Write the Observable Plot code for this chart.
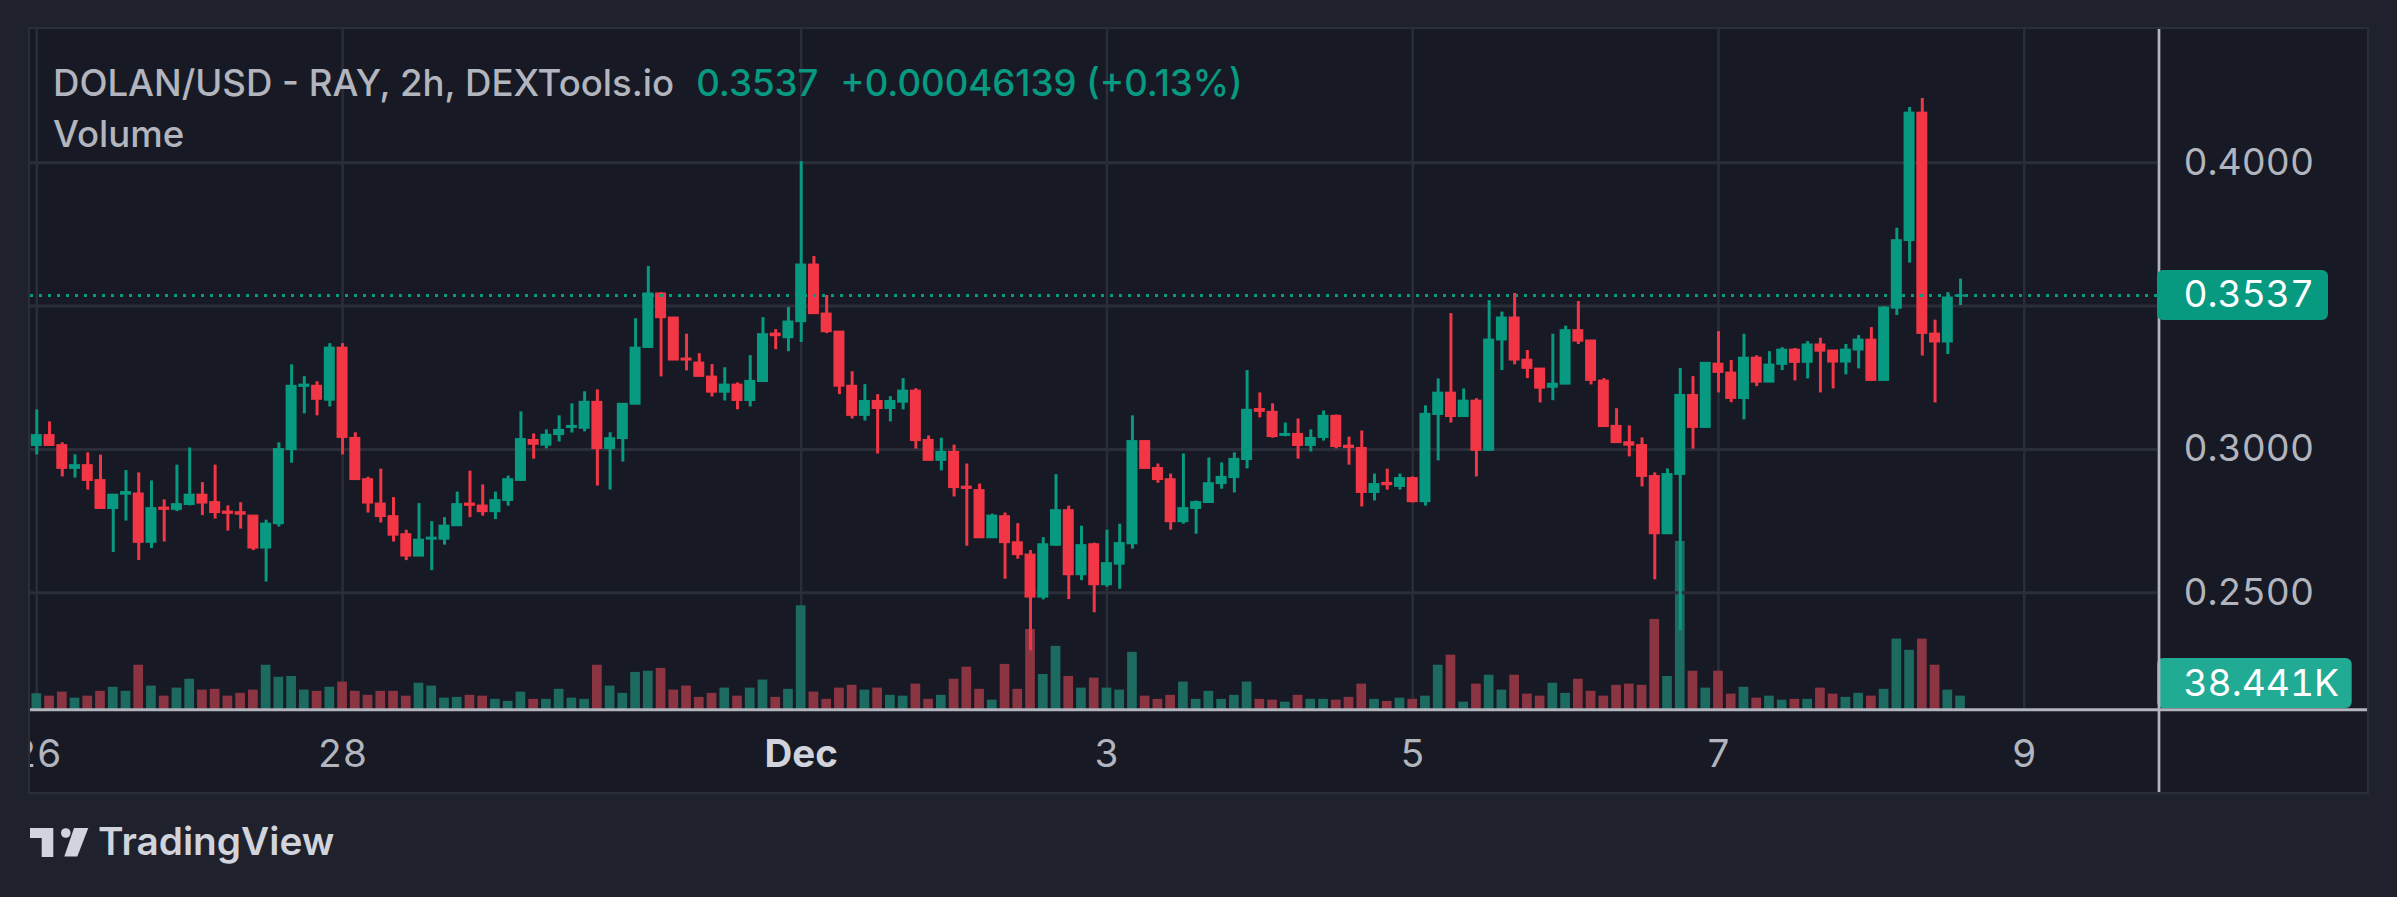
<!DOCTYPE html>
<html>
<head>
<meta charset="utf-8">
<script src="https://cdn.jsdelivr.net/npm/d3@7"></script>
<script src="https://cdn.jsdelivr.net/npm/@observablehq/plot@0.6"></script>
<style>
  html, body { margin:0; padding:0; background:#1f222d; overflow:hidden; }
  #page { position:relative; width:2397px; height:897px; background:#1f222d; font-family: Inter, "Noto Sans", sans-serif; }
  #pane { position:absolute; left:30px; top:29px; width:2337px; height:763px; background:#171a25; overflow:hidden; box-shadow: 0 0 0 2px #2a2e39; }
  #pane > svg { position:absolute; left:0; top:0; }
  .hdr { position:absolute; left:53px; font-size:36.6px; line-height:36.6px; color:#b2b5be; white-space:nowrap; font-weight:500; }
  #title { top:65px; }
  #vol { top:116px; }
  .g { color:#089981; margin-left:22px; }
  #brand { position:absolute; left:98px; top:821.5px; font-size:38.8px; line-height:38.8px; font-weight:600; color:#d1d4dc; white-space:nowrap; }
  #logo { position:absolute; left:30px; top:828px; }
</style>
</head>
<body>
<div id="page">
  <div id="pane"></div>
  <div id="title" class="hdr"></div>
  <div id="vol" class="hdr"></div>
  <svg id="logo" width="62" height="30" viewBox="0 0 62 30">
    <path d="M0 0 H23.3 V29 H11.7 V10 H0 Z" fill="#d1d4dc"/>
    <circle cx="35.8" cy="5" r="4.8" fill="#d1d4dc"/>
    <path d="M44 0 H58.3 L47.3 28.5 H34.3 Z" fill="#d1d4dc"/>
  </svg>
  <div id="brand"></div>
</div>
<script>
// ---------------- data ----------------
const symbolText = "DOLAN/USD - RAY, 2h, DEXTools.io";
const lastPriceText = "0.3537";
const changeText = "+0.00046139 (+0.13%)";
const volumeTitle = "Volume";
const brandText = "TradingView";

const startTime = Date.UTC(2023, 10, 26, 0, 0);   // first 2h candle: Nov 26, 00:00
const stepMs = 2 * 3600 * 1000;

const opens = [
0.3012,0.3050,0.3015,0.2932,0.2945,0.2893,0.2792,0.2842,0.2846,0.2674,
0.2797,0.2789,0.2806,0.2842,0.2816,0.2783,0.2781,0.2769,0.2654,0.2739,
0.2998,0.3218,0.3222,0.3170,0.3355,0.3040,0.2896,0.2811,0.2767,0.2704,
0.2626,0.2685,0.2685,0.2732,0.2811,0.2804,0.2781,0.2820,0.2890,0.3033,
0.3013,0.3050,0.3075,0.3072,0.3166,0.3001,0.3036,0.3156,0.3354,0.3544,
0.3460,0.3317,0.3303,0.3254,0.3198,0.3226,0.3169,0.3235,0.3404,0.3388,
0.3444,0.3645,0.3474,0.3411,0.3222,0.3117,0.3169,0.3141,0.3163,0.3205,
0.3033,0.2960,0.2991,0.2870,0.2858,0.2690,0.2767,0.2676,0.2633,0.2483,
0.2664,0.2788,0.2561,0.2669,0.2526,0.2598,0.2669,0.3029,0.2935,0.2896,
0.2746,0.2792,0.2813,0.2879,0.2900,0.2963,0.3141,0.3131,0.3047,0.3054,
0.3012,0.3040,0.3117,0.3013,0.3005,0.2848,0.2883,0.2869,0.2900,0.2816,
0.3120,0.3198,0.3113,0.3170,0.2995,0.3380,0.3460,0.3313,0.3282,0.3215,
0.3226,0.3416,0.3380,0.3240,0.3082,0.3025,0.3015,0.2907,0.2704,0.2911,
0.3190,0.3075,0.3299,0.3268,0.3176,0.3320,0.3233,0.3295,0.3348,0.3302,
0.3366,0.3345,0.3303,0.3345,0.3383,0.3239,0.3491,0.3727,0.4175,0.3404,
0.3373,0.3533];
const highs = [
0.3138,0.3096,0.3023,0.2981,0.2988,0.2980,0.2842,0.2926,0.2918,0.2890,
0.2824,0.2945,0.3005,0.2884,0.2945,0.2803,0.2814,0.2769,0.2753,0.3023,
0.3295,0.3254,0.3236,0.3369,0.3369,0.3058,0.2903,0.2931,0.2832,0.2718,
0.2811,0.2748,0.2762,0.2851,0.2924,0.2876,0.2851,0.2907,0.3131,0.3054,
0.3068,0.3117,0.3159,0.3201,0.3208,0.3058,0.3159,0.3456,0.3638,0.3547,
0.3460,0.3402,0.3334,0.3296,0.3285,0.3232,0.3327,0.3460,0.3418,0.3495,
0.4004,0.3673,0.3537,0.3411,0.3271,0.3226,0.3191,0.3184,0.3247,0.3212,
0.3047,0.3039,0.3015,0.2949,0.2879,0.2774,0.2778,0.2741,0.2647,0.2692,
0.2912,0.2802,0.2732,0.2673,0.2718,0.2739,0.3117,0.3029,0.2949,0.2914,
0.2984,0.2820,0.2970,0.2953,0.2988,0.3275,0.3197,0.3159,0.3092,0.3106,
0.3068,0.3134,0.3120,0.3043,0.3064,0.2914,0.2931,0.2914,0.2904,0.3152,
0.3246,0.3474,0.3211,0.3177,0.3519,0.3479,0.3544,0.3345,0.3282,0.3402,
0.3430,0.3516,0.3380,0.3247,0.3142,0.3082,0.3040,0.2918,0.2932,0.3282,
0.3254,0.3302,0.3411,0.3310,0.3402,0.3327,0.3341,0.3355,0.3352,0.3376,
0.3388,0.3345,0.3366,0.3397,0.3425,0.3498,0.3772,0.4193,0.4224,0.3451,
0.3547,0.3594];
const lows = [
0.2981,0.3012,0.2904,0.2900,0.2858,0.2792,0.2640,0.2750,0.2612,0.2654,
0.2677,0.2783,0.2803,0.2769,0.2757,0.2715,0.2722,0.2647,0.2537,0.2729,
0.2952,0.3124,0.3117,0.3148,0.2981,0.2893,0.2778,0.2743,0.2677,0.2612,
0.2626,0.2577,0.2666,0.2732,0.2762,0.2767,0.2755,0.2802,0.2890,0.2966,
0.3002,0.3026,0.3057,0.3061,0.2872,0.2858,0.2956,0.3156,0.3354,0.3253,
0.3310,0.3274,0.3253,0.3183,0.3169,0.3138,0.3148,0.3235,0.3348,0.3341,
0.3373,0.3472,0.3404,0.3191,0.3106,0.3099,0.2984,0.3096,0.3138,0.3001,
0.2960,0.2925,0.2834,0.2662,0.2690,0.2690,0.2547,0.2617,0.2297,0.2475,
0.2662,0.2476,0.2542,0.2430,0.2519,0.2512,0.2652,0.2932,0.2882,0.2718,
0.2739,0.2704,0.2813,0.2861,0.2848,0.2932,0.3110,0.3039,0.3044,0.2966,
0.2991,0.3029,0.3002,0.2945,0.2799,0.2820,0.2858,0.2858,0.2813,0.2802,
0.2960,0.3092,0.3113,0.2904,0.2995,0.3275,0.3295,0.3247,0.3162,0.3170,
0.3226,0.3366,0.3225,0.3078,0.3022,0.2974,0.2869,0.2545,0.2704,0.2367,
0.3001,0.3075,0.3197,0.3163,0.3103,0.3219,0.3233,0.3275,0.3239,0.3246,
0.3197,0.3211,0.3260,0.3281,0.3239,0.3239,0.3467,0.3650,0.3326,0.3162,
0.3331,0.3502];
const closes = [
0.3050,0.3012,0.2932,0.2945,0.2890,0.2792,0.2842,0.2851,0.2674,0.2795,
0.2789,0.2809,0.2842,0.2811,0.2778,0.2775,0.2772,0.2654,0.2741,0.3001,
0.3222,0.3226,0.3173,0.3355,0.3040,0.2893,0.2811,0.2764,0.2699,0.2626,
0.2685,0.2692,0.2734,0.2809,0.2803,0.2781,0.2823,0.2896,0.3036,0.3016,
0.3051,0.3068,0.3082,0.3166,0.3001,0.3039,0.3159,0.3355,0.3544,0.3458,
0.3310,0.3310,0.3253,0.3198,0.3226,0.3169,0.3239,0.3402,0.3395,0.3446,
0.3645,0.3472,0.3409,0.3219,0.3117,0.3169,0.3141,0.3169,0.3205,0.3029,
0.2960,0.2991,0.2865,0.2862,0.2690,0.2769,0.2673,0.2631,0.2483,0.2669,
0.2788,0.2561,0.2666,0.2526,0.2603,0.2673,0.3029,0.2932,0.2893,0.2746,
0.2795,0.2816,0.2882,0.2904,0.2967,0.3138,0.3131,0.3043,0.3054,0.3012,
0.3040,0.3117,0.3008,0.3005,0.2848,0.2879,0.2875,0.2900,0.2816,0.3124,
0.3198,0.3113,0.3170,0.2995,0.3383,0.3460,0.3310,0.3281,0.3212,0.3229,
0.3416,0.3376,0.3239,0.3078,0.3022,0.3013,0.2904,0.2704,0.2914,0.3190,
0.3075,0.3302,0.3267,0.3176,0.3320,0.3233,0.3296,0.3348,0.3302,0.3366,
0.3341,0.3303,0.3348,0.3383,0.3239,0.3495,0.3730,0.4175,0.3403,0.3373,
0.3530,0.3537];
// volume in thousands (K)
const volumes = [
45.2,38.4,49.7,32.8,38.4,52.0,63.3,52.0,125.4,66.7,
38.4,61.0,85.9,55.4,57.6,38.4,46.3,55.4,125.4,91.5,
93.8,55.4,52.0,63.3,78.0,52.0,40.7,52.0,52.0,38.4,
74.6,66.7,32.8,35.0,40.7,38.4,29.4,23.7,49.7,29.4,
29.4,57.6,32.8,29.4,125.4,66.7,46.3,105.1,108.5,116.4,
55.4,66.7,35.0,46.3,61.0,38.4,61.0,83.6,35.0,57.6,
292.7,49.7,29.4,61.0,68.9,55.4,61.0,40.7,38.4,72.3,
29.4,40.7,85.9,119.8,57.6,27.1,127.7,57.6,226.0,99.4,
178.5,93.8,61.0,89.3,61.0,55.4,161.6,38.4,29.4,40.7,
78.0,29.4,52.0,29.4,40.7,78.0,29.4,27.1,21.5,40.7,
29.4,29.4,27.1,35.0,72.3,29.4,23.7,32.8,29.4,38.4,
125.4,153.7,21.5,72.3,97.2,55.4,97.2,44.1,38.4,74.6,
46.3,85.9,52.0,38.4,68.9,72.3,68.9,254.3,93.8,473.5,
108.5,61.0,108.5,44.1,63.3,32.8,38.4,27.1,29.4,29.4,
61.0,44.1,35.0,46.3,38.4,57.6,198.9,167.2,198.9,125.4,
55.4,38.441];

const lastPrice = 0.3537;
const lastVolumeText = "38.441K";
const priceTicks = [0.25, 0.30, 0.40];
const priceGrid = [0.25, 0.30, 0.35, 0.40];
const dayTicks = [Date.UTC(2023,10,26), Date.UTC(2023,10,28), Date.UTC(2023,11,1),
                  Date.UTC(2023,11,3), Date.UTC(2023,11,5), Date.UTC(2023,11,7), Date.UTC(2023,11,9)];
const dayLabels = ["26", "28", "Dec", "3", "5", "7", "9"];

const upColor = "#089981", downColor = "#f23645";
const volUpColor = "#1d6a60", volDownColor = "#8b3442";
const gridColor = "#2a2e39", axisLineColor = "#b2b5be", labelColor = "#b2b5be";

// ---------------- header text ----------------
const title = document.getElementById("title");
title.append(symbolText);
for (const t of [lastPriceText, changeText]) {
  const s = document.createElement("span"); s.className = "g"; s.textContent = t; title.append(s);
}
document.getElementById("vol").textContent = volumeTitle;
document.getElementById("brand").textContent = brandText;

// ---------------- layout ----------------
const W = 2337, H = 763, frameW = 2127, baseY = 680.3;
const pxPerBar = 12.74, firstBarPx = 6.3;
const msPerPx = stepMs / pxPerBar;
const pxToTime = px => new Date(startTime + (px - firstBarPx) * msPerPx);
const pxPerPrice = 2866, y040 = 133.3;
const priceAt = sy => 0.4 - (sy - y040) / pxPerPrice;
const kPerPx = 2.8126;
const volAt = sy => (baseY - sy) * kPerPx;

const candles = opens.map((o, i) => ({
  date: new Date(startTime + i * stepMs),
  open: o, high: highs[i], low: lows[i], close: closes[i], volume: volumes[i],
  up: closes[i] >= o
}));
const dayData = dayTicks.map((t, i) => ({date: new Date(t), label: dayLabels[i]}));

const xOpt = {type: "utc", domain: [pxToTime(0), pxToTime(frameW)], range: [0, frameW], axis: null};
const common = {
  width: W, height: H, marginLeft: 0, marginRight: W - frameW, marginTop: 0, marginBottom: H - baseY,
  style: {background: "transparent", color: labelColor, fontFamily: "Inter, 'Noto Sans', sans-serif", fontSize: "37.2px", overflow: "hidden"}
};

const volPlot = Plot.plot({
  ...common,
  x: xOpt,
  y: {domain: [0, 1000], range: [baseY, baseY - 1000 / kPerPx], axis: null},
  marks: [
    Plot.ruleX(dayData, {x: "date", stroke: gridColor, strokeWidth: 2.5}),
    Plot.rect(candles, {
      x1: d => new Date(+d.date - 4.85 * msPerPx), x2: d => new Date(+d.date + 4.85 * msPerPx),
      y1: 0, y2: "volume", fill: d => d.up ? volUpColor : volDownColor
    }),
    Plot.ruleY([0], {x1: () => pxToTime(0), x2: () => pxToTime(W), stroke: axisLineColor, strokeWidth: 3}),
    Plot.text(dayData.filter(d => d.label !== "Dec"), {x: "date", text: "label", frameAnchor: "bottom", lineAnchor: "middle", dy: 45, fill: labelColor, fontSize: 38.5, fontVariant: "tabular-nums"}),
    Plot.text(dayData.filter(d => d.label === "Dec"), {x: "date", text: "label", frameAnchor: "bottom", lineAnchor: "middle", dy: 45, fill: "#d1d4dc", fontWeight: "bold", fontSize: 38.5}),
    Plot.rect([lastVolumeText], {x1: () => pxToTime(frameW), x2: () => pxToTime(2321.7), y1: () => volAt(679), y2: () => volAt(629), fill: "#22ab94", rx: 6}),
    Plot.text([lastVolumeText], {x: () => pxToTime(2153), y: () => volAt(654.3), text: d => d, textAnchor: "start", fill: "white", fontVariant: "tabular-nums"})
  ]
});

const pricePlot = Plot.plot({
  ...common,
  x: xOpt,
  y: {domain: [0.2, 0.45], range: [y040 + 0.2 * pxPerPrice, y040 - 0.05 * pxPerPrice], axis: null},
  marks: [
    Plot.ruleY(priceGrid, {stroke: gridColor, strokeWidth: 3}),
    Plot.ruleX(candles, {x: "date", y1: "low", y2: "high", stroke: d => d.up ? upColor : downColor, strokeWidth: 3}),
    Plot.rect(candles, {
      x1: d => new Date(+d.date - 5.5 * msPerPx), x2: d => new Date(+d.date + 5.5 * msPerPx),
      y1: d => Math.min(d.open, d.close), y2: d => Math.max(d.open, d.close),
      fill: d => d.up ? upColor : downColor, insetTop: -0.5, insetBottom: -0.5
    }),
    Plot.ruleY([lastPrice], {stroke: upColor, strokeWidth: 3, strokeDasharray: "3,6"}),
    Plot.ruleX([0], {x: () => pxToTime(2128.5), y1: () => priceAt(0), y2: () => priceAt(H), stroke: axisLineColor, strokeWidth: 2.7}),
    Plot.rect([lastPrice], {x1: () => pxToTime(frameW), x2: () => pxToTime(2298), y1: d => d - 25 / pxPerPrice, y2: d => d + 25 / pxPerPrice, fill: upColor, rx: 6}),
    Plot.text([lastPrice], {x: () => pxToTime(2153), y: d => d, text: d => d.toFixed(4), textAnchor: "start", fill: "white", fontVariant: "tabular-nums"}),
    Plot.axisY(priceTicks, {anchor: "right", tickSize: 0, tickPadding: 26, tickFormat: d3.format(".4f"), label: null, fontVariant: "tabular-nums"})
  ]
});

const pane = document.getElementById("pane");
pane.append(volPlot, pricePlot);
</script>
</body>
</html>
